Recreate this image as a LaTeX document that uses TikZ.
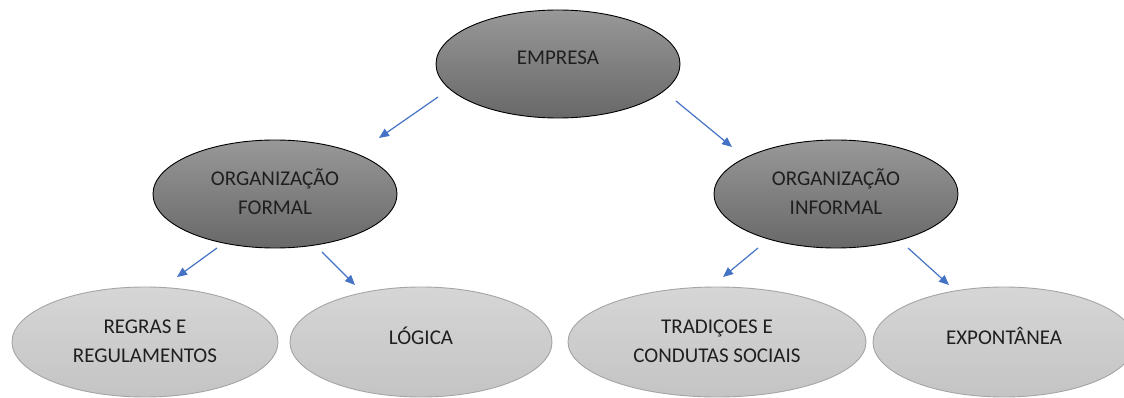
\documentclass[tikz,border=0pt]{standalone}
\usepackage{fontspec}
\setmainfont{Carlito}
\usetikzlibrary{shapes.geometric,arrows.meta}
\definecolor{arrblue}{RGB}{68,114,196}
\newcommand{\liftone}[1]{\raisebox{13pt}{#1}}
\newcommand{\lifttwo}[1]{\raisebox{8pt}{\begin{tabular}{@{}c@{}}#1\end{tabular}}}
\tikzset{
  darkell/.style={ellipse, draw=black, line width=0.9pt, top color={rgb,255:red,152;green,152;blue,152}, bottom color={rgb,255:red,104;green,104;blue,104}, minimum width=244pt, minimum height=108pt, inner sep=0pt, font=\fontsize{21}{29}\selectfont, text=black!88},
  lightell/.style={ellipse, draw={rgb,255:red,165;green,165;blue,165}, line width=0.9pt, top color={rgb,255:red,214;green,214;blue,214}, bottom color={rgb,255:red,196;green,196;blue,196}, minimum height=110pt, inner sep=0pt, font=\fontsize{21}{29}\selectfont, text=black!88},
  arr/.style={draw=arrblue, line width=1.2pt, -{Triangle[length=10pt,width=8.5pt]}}
}
\begin{document}
\begin{tikzpicture}[x=1pt,y=-1pt]
\useasboundingbox[fill=white] (0,0) rectangle (1124,398);
\node[darkell] (emp) at (558,64) {\liftone{EMPRESA}};
\node[darkell] (form) at (275,194) {\lifttwo{ORGANIZAÇÃO\\FORMAL}};
\node[darkell] (inf) at (836,194) {\lifttwo{ORGANIZAÇÃO\\INFORMAL}};
\node[lightell, minimum width=266pt] (reg) at (145,342) {\lifttwo{REGRAS E\\REGULAMENTOS}};
\node[lightell, minimum width=262pt] (log) at (421,342) {\liftone{LÓGICA}};
\node[lightell, minimum width=298pt] (trad) at (717,342) {\lifttwo{TRADIÇOES E\\CONDUTAS SOCIAIS}};
\node[lightell, minimum width=262pt] (exp) at (1004,342) {\liftone{EXPONTÂNEA}};
\coordinate (s1) at (438,97);  \coordinate (e1) at (379,138);
\coordinate (s2) at (676,101); \coordinate (e2) at (732,147);
\coordinate (s3) at (217,248); \coordinate (e3) at (177,277);
\coordinate (s4) at (322,252); \coordinate (e4) at (355,285);
\coordinate (s5) at (758,248); \coordinate (e5) at (723,277);
\coordinate (s6) at (908,248); \coordinate (e6) at (949,285);
\draw[arr] (s1) -- (e1);
\draw[arr] (s2) -- (e2);
\draw[arr] (s3) -- (e3);
\draw[arr] (s4) -- (e4);
\draw[arr] (s5) -- (e5);
\draw[arr] (s6) -- (e6);
\end{tikzpicture}
\end{document}
